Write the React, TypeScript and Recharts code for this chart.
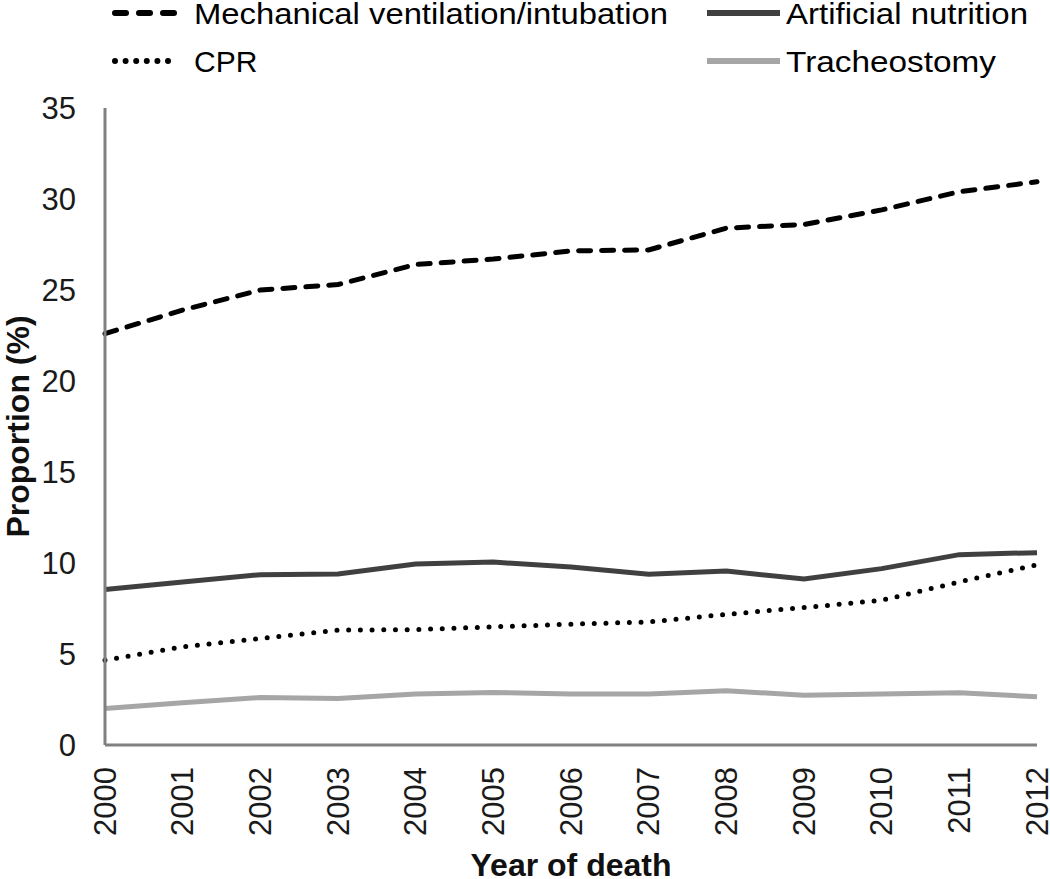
import React from 'react';
import { LineChart, Line, XAxis, YAxis } from 'recharts';

const years = ['2000','2001','2002','2003','2004','2005','2006','2007','2008','2009','2010','2011','2012'];
const mechanical = [22.6, 23.9, 25.0, 25.3, 26.4, 26.7, 27.15, 27.2, 28.4, 28.6, 29.4, 30.4, 30.95];
const nutrition = [8.54, 8.96, 9.36, 9.4, 9.95, 10.05, 9.78, 9.38, 9.56, 9.12, 9.69, 10.46, 10.57];
const cpr = [4.66, 5.39, 5.85, 6.31, 6.34, 6.49, 6.64, 6.76, 7.18, 7.55, 7.95, 8.96, 9.9];
const tracheostomy = [2.01, 2.32, 2.61, 2.56, 2.8, 2.89, 2.8, 2.8, 2.98, 2.74, 2.8, 2.87, 2.65];
const yTicks = [0, 5, 10, 15, 20, 25, 30, 35];

const seriesNames = ['Mechanical ventilation/intubation', 'Artificial nutrition', 'CPR', 'Tracheostomy'];

const data = years.map((y, i) => ({
  year: y,
  mech: mechanical[i],
  nut: nutrition[i],
  cpr: cpr[i],
  tra: tracheostomy[i],
}));

const FONT = '"Liberation Sans", Arial, sans-serif';

const XTick = (props: any) => {
  const { x, y, payload } = props;
  const ty = y + 22;
  return (
    <text
      x={x}
      y={ty}
      transform={`rotate(-90, ${x}, ${ty})`}
      textAnchor="end"
      dominantBaseline="central"
      fontSize={31}
      fontFamily={FONT}
      fill="#1a1a1a"
    >
      {payload.value}
    </text>
  );
};

const YTitle = (props: any) => {
  const vb = props.viewBox;
  const cy = vb.y + vb.height / 2;
  const cx = 18;
  return (
    <text
      x={cx}
      y={cy}
      transform={`rotate(-90, ${cx}, ${cy})`}
      textAnchor="middle"
      dominantBaseline="central"
      fontSize={32}
      fontWeight="bold"
      fontFamily={FONT}
      fill="#111"
    >
      Proportion (%)
    </text>
  );
};

const XTitle = (props: any) => {
  const vb = props.viewBox;
  return (
    <text
      x={vb.x + vb.width / 2}
      y={876}
      textAnchor="middle"
      fontSize={32}
      fontWeight="bold"
      fontFamily={FONT}
      fill="#111"
    >
      Year of death
    </text>
  );
};

const legendItems = [
  { name: seriesNames[0], color: '#000', dash: '11 13', cap: 'round', sx: 115, ex: 174, tx: 194, ty: 24, len: 474 },
  { name: seriesNames[1], color: '#404040', dash: undefined, cap: 'butt', sx: 707, ex: 780, tx: 786, ty: 24, len: 242 },
  { name: seriesNames[2], color: '#000', dash: '0 10.6', cap: 'round', sx: 115, ex: 177, tx: 194, ty: 72, len: undefined },
  { name: seriesNames[3], color: '#a6a6a6', dash: undefined, cap: 'butt', sx: 707, ex: 780, tx: 786, ty: 72, len: 210 },
];

const LegendOverlay = () => (
  <svg width={1050} height={95} style={{ position: 'absolute', left: 0, top: 0 }}>
    {legendItems.map((it) => (
      <g key={it.name}>
        <line
          x1={it.sx}
          x2={it.ex}
          y1={it.ty - 11}
          y2={it.ty - 11}
          stroke={it.color}
          strokeWidth={6}
          strokeDasharray={it.dash}
          strokeLinecap={it.cap as any}
        />
        <text
          x={it.tx}
          y={it.ty}
          fontSize={30}
          fontFamily={FONT}
          fill="#000"
          textLength={it.len}
          lengthAdjust={it.len ? 'spacingAndGlyphs' : undefined}
        >
          {it.name}
        </text>
      </g>
    ))}
  </svg>
);

export default function App() {
  return (
    <div style={{ position: 'absolute', left: 0, top: 0, width: 1050, height: 879, background: '#fff' }}>
      <LineChart
        width={1050}
        height={879}
        data={data}
        margin={{ top: 108, right: 13, bottom: 0, left: 0 }}
      >
        <XAxis
          dataKey="year"
          height={134}
          axisLine={{ stroke: '#808080', strokeWidth: 3 }}
          tickLine={false}
          tickSize={0}
          tickMargin={0}
          interval={0}
          tick={<XTick />}
          label={<XTitle />}
        />
        <YAxis
          width={105}
          domain={[0, 35]}
          ticks={yTicks}
          axisLine={{ stroke: '#808080', strokeWidth: 3 }}
          tickLine={false}
          tickSize={0}
          tickMargin={29}
          tick={{ fontSize: 31, fontFamily: FONT, fill: '#1a1a1a' }}
          label={<YTitle />}
        />
        <Line dataKey="tra" name={seriesNames[3]} stroke="#a6a6a6" strokeWidth={5} dot={false} isAnimationActive={false} />
        <Line dataKey="nut" name={seriesNames[1]} stroke="#404040" strokeWidth={5} dot={false} isAnimationActive={false} />
        <Line dataKey="cpr" name={seriesNames[2]} stroke="#000" strokeWidth={5} strokeDasharray="0 11.7" strokeLinecap="round" dot={false} isAnimationActive={false} />
        <Line dataKey="mech" name={seriesNames[0]} stroke="#000" strokeWidth={5} strokeDasharray="12 11" strokeLinecap="round" dot={false} isAnimationActive={false} />
      </LineChart>
      <LegendOverlay />
    </div>
  );
}
